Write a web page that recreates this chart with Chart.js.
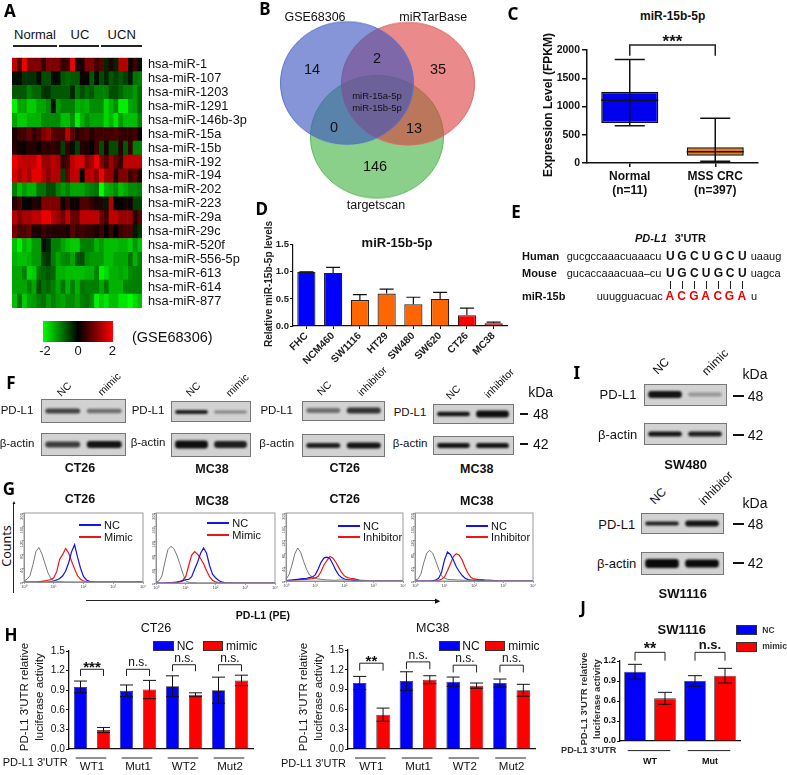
<!DOCTYPE html>
<html>
<head>
<meta charset="utf-8">
<script src="https://cdn.jsdelivr.net/npm/chart.js@4/dist/chart.umd.js"></script>
<style>
html,body{margin:0;padding:0;background:#fff;}
#page{position:relative;width:787px;height:775px;overflow:hidden;background:#fff;font-family:"Liberation Sans",Arial,sans-serif;color:#111;}
#page canvas{position:absolute;}
.t{position:absolute;white-space:nowrap;line-height:1;}
.r{position:absolute;}
.blot{position:absolute;overflow:hidden;border:1px solid #777;box-sizing:border-box;background:#d2d2d2;}
</style>
</head>
<body>
<div id="page"></div>
<script>
// ---------- data ----------
const heatLabels = ['hsa-miR-1','hsa-miR-107','hsa-miR-1203','hsa-miR-1291','hsa-miR-146b-3p','hsa-miR-15a','hsa-miR-15b','hsa-miR-192','hsa-miR-194','hsa-miR-202','hsa-miR-223','hsa-miR-29a','hsa-miR-29c','hsa-miR-520f','hsa-miR-556-5p','hsa-miR-613','hsa-miR-614','hsa-miR-877'];
const heatRows = [
[1.5,.6,1.9,1,1,1,.4,1,1,1,.4,.5,1.9,.2,.2,1,1,.5,.7,-.3,.3,-.3,1.4,1.4,.1,.5,-.1],
[-.1,-.1,-.4,-.4,-.4,-.1,-.6,-.6,-.1,-.1,-.7,-.8,-.7,-.7,.1,.1,-.7,-.1,-.6,-.3,-.7,-.5,-.7,-.5,-.2,-.9,-1],
[-.7,-.7,-.7,-1,-.8,-.8,-.4,-.4,-.7,-.7,-.7,-.7,-.3,-.9,-.6,-.8,-.7,-1,-1,-1,-.6,-.6,-.8,-1,-1,-1.2,-.8],
[-1.9,-1.3,-1.3,-1.6,-1.6,-1.3,-1.3,-1.1,-.1,-1.2,-1,-1,-1,-1.4,-1.3,-1.4,-1.1,-1.1,-1.1,-1.7,-1.4,-1.1,-1.9,-1.9,-1.3,-1.2,-.8],
[-1.3,-1.6,-1.6,-1.4,-1.4,-1.4,-1.1,-1.1,-1.1,-1.1,-1.5,-1.5,-1.1,-1.9,-1.4,-1.1,-1.3,-1.3,-1.3,-1.7,-1.4,-1.8,-1.2,-1.5,-1.5,-1.5,-1],
[.2,.5,.5,.8,.4,.6,1,1.2,.7,.6,.6,1.5,.7,.3,.5,.6,.3,.5,.5,.5,.5,.6,.4,.4,.4,.5,.1],
[.3,.1,.1,.3,.3,.1,.4,.3,.4,.3,-.5,.4,-.1,-.5,.3,.2,0,.5,-.6,.2,-.6,-.6,.3,-.7,.4,-1,-1],
[1.9,1.6,1.5,1.5,1.5,1.9,1.2,1.2,1.5,1.3,.4,.6,1.5,1.7,1.7,1,1.3,1.9,1,.6,1.2,.8,.4,1.5,1.5,1.5,1.5],
[1.7,1.3,1.6,1.3,1.8,1.8,1.4,1.1,1.4,1.4,-.5,.8,1.5,1.5,0,1.4,1.5,1.1,1.9,1.2,1.2,.3,1,1,.5,.7,.3],
[-1,-1.5,-1.2,-1.4,-1.4,-.9,-.9,-.6,-.6,-1,-1.2,-1,-1.3,-1.3,-1.3,-1.1,-1,-.9,-2,-1.4,-1.3,-1.1,-1.5,-1.3,-1.1,-1.1,-1],
[.3,.6,0,0,.3,.2,1,1,1,1,.1,.5,.1,.1,.6,.6,.4,.2,.3,-.2,1.4,0,0,.2,.1,-.5,-.5],
[1.4,1,1.3,1.3,1.5,1.5,1.8,1.8,1.4,1.2,.9,1.5,.8,.8,1.5,1.5,1.5,1.5,.8,.5,1.5,1.5,1.2,1.2,1.2,.3,.7],
[.9,.6,.6,.8,.2,.2,.5,.3,.3,.3,.3,.2,.7,.4,.5,.4,.4,.2,.5,0,.5,0,.5,.6,.6,-.2,-.4],
[-1.5,-1.9,-1.4,-1.6,-1.2,-1.2,-.1,-.3,-1,-1,-1.3,-1.5,-1.6,-1.6,-1,-1,-1,-1.4,-1.2,-1.5,-1.5,-1.5,-1.4,-1.4,-1.6,-1.2,-1.5],
[-1.4,-1.5,-1.5,-1.4,-1.2,-1.2,-.5,-.4,-1,-1.3,-1.1,-1,-1.3,-.7,-.6,-1.1,-1.2,-1.2,-1.2,-1.5,-1.5,-1.3,-1.3,-1.3,-.9,-1.4,-1],
[-1.3,-1.3,-1,-1.7,-1.6,-.9,-.8,-.7,-.8,-1.4,-1.4,-1.5,-1.5,-1.5,-1.5,-1.4,-1.4,-1,-1.9,-1.7,-1.4,-1.4,-1.3,-1.4,-1.1,-1,-1],
[-1.3,-1.3,-1.3,-1,-1.3,-.6,-.9,-.8,-1,-1.3,-.9,-1.4,-1,-1.4,-.9,-1,-1,-1,-1.3,-.9,-1.4,-1.4,-1.4,-1,-1,-1,-1],
[-1.5,-.9,-1.6,-1.3,-1.2,-1,-.9,-1.2,-1,-1.2,-1.3,-1.1,-1.1,-1.3,-1,-.9,-1.1,-1.9,-1.6,-1.8,-1.5,-1.5,-1.8,-1.8,-2,-1.7,-1.5]
];

const vennX = [-30, 31, 0];
const vennY = [29.3, 28.5, -29];
const vennR = [66.5, 66.5, 66.5];

const boxLabels = [['Normal','(n=11)'],['MSS CRC','(n=397)']];
const boxMin = [660, 30];
const boxQ1 = [710, 130];
const boxMedian = [1110, 200];
const boxQ3 = [1260, 280];
const boxMax = [1830, 790];

const cellLabels = ['FHC','NCM460','SW1116','HT29','SW480','SW620','CT26','MC38'];
const cellValues = [1, .98, .48, .6, .4, .5, .2, .05];
const cellErr = [0, .1, .1, .08, .13, .12, .13, .02];

const flowX = [1,1.26,1.58,2,2.51,3.16,3.98,5.01,6.31,7.94,10,12.6,15.8,20,25.1,31.6,39.8,50.1,63.1,79.4,100,126,158,200,251,316,398,501,631,794,1000];
const flowGray1 = [3,8,18,50,88,100,82,55,28,10,4,2,1,1,0];
const flowBlue1 = [0,0,0,0,0,0,0,0,0,1,3,6,10,18,32,55,88,108,72,40,16,6,2,1,0];
const flowRed1 = [0,0,0,0,0,1,2,3,5,7,12,30,66,80,97,84,60,38,18,8,3,1,0];
const flowGray2 = [2,6,20,60,95,105,98,80,55,28,6,2,1,1,0];
const flowBlue2 = [0,0,0,0,0,0,0,1,3,6,10,10,18,40,60,85,100,85,50,25,15,8,3,1,0];
const flowRed2 = [0,0,0,0,1,1,2,3,5,8,18,50,80,90,82,70,55,35,18,8,3,1,0];
const flowGray3 = [5,18,45,80,97,85,58,35,18,12,8,6,5,4,3,3,2,2,3,3,3,3,4,4,3,2,1,1,0];
const flowBlue3 = [1,2,3,4,5,6,7,8,10,12,18,35,55,68,70,66,50,32,18,10,6,4,3,2,1,1,0];
const flowRed3 = [1,2,2,3,3,4,5,5,6,7,9,14,28,48,60,72,68,56,40,25,15,10,8,7,5,3,2,1,0];
const flowGray4 = [2,6,20,55,82,90,82,60,35,15,8,5,4,4,3,3,2,2,2,2,2,1,1,0];
const flowBlue4 = [0,0,0,0,0,0,1,3,8,25,62,85,78,62,42,28,16,8,4,3,2,2,1,1,0];
const flowRed4 = [0,0,0,0,0,0,0,1,2,5,12,30,50,72,80,76,62,40,22,10,6,5,4,4,3,3,2,1,1,0];

const lucGroups = ['WT1','Mut1','WT2','Mut2'];
const ct26Nc = [.95,.89,.96,.90];
const ct26NcErr = [.09,.09,.16,.20];
const ct26Mimic = [.29,.91,.83,1.05];
const ct26MimicErr = [.04,.14,.03,.08];
const ct26Brackets = [[1.22,1.117,'***'],[1.22,1.117,'n.s.'],[1.29,1.19,'n.s.'],[1.29,1.19,'n.s.']];
const mc38Nc = [1,1.03,1.02,1];
const mc38NcErr = [.1,.14,.07,.06];
const mc38Mimic = [.52,1.05,.96,.89];
const mc38MimicErr = [.1,.06,.04,.09];
const mc38Brackets = [[1.3,1.187,'**'],[1.32,1.21,'n.s.'],[1.27,1.16,'n.s.'],[1.27,1.16,'n.s.']];

const swGroups = ['WT','Mut'];
const swNc = [1.04,.90];
const swNcErr = [.11,.08];
const swMimic = [.64,.98];
const swMimicErr = [.09,.11];
const swBrackets = [[1.33,1.205,'**'],[1.33,1.205,'n.s.']];

const BLUE = '#0000ff', RED = '#ff0000';
Chart.defaults.font.family = '"Liberation Sans", Arial, sans-serif';
Chart.defaults.color = '#111';
Chart.defaults.animation = false;

const page = document.getElementById('page');

// ---------- text and plain bits ----------
function txt(s, x, y, o) {
    o = o || {};
    const d = document.createElement('div');
    d.className = 't';
    d.textContent = s;
    d.style.left = x + 'px';
    d.style.top = y + 'px';
    d.style.fontSize = (o.size || 11) + 'px';
    if (o.bold) d.style.fontWeight = 'bold';
    if (o.italic) d.style.fontStyle = 'italic';
    if (o.color) d.style.color = o.color;
    if (o.font) d.style.fontFamily = o.font;
    const tx = o.left ? '0' : '-50%';
    d.style.transform = 'translate(' + tx + ',-50%)' + (o.rot ? ' rotate(' + o.rot + 'deg)' : '');
    page.appendChild(d);
}
function rect(x, y, w, h, bg, border) {
    const d = document.createElement('div');
    d.className = 'r';
    d.style.cssText = 'left:' + x + 'px;top:' + y + 'px;width:' + w + 'px;height:' + h + 'px;background:' + bg + ';' + (border ? 'border:1px solid ' + border + ';box-sizing:border-box;' : '');
    page.appendChild(d);
    return d;
}

// ---------- plugins ----------
// whiskers and medians off the dataset's own low/high arrays
const whiskerPlugin = {
    id: 'whiskers',
    afterDatasetsDraw(chart) {
        const ctx = chart.ctx, ys = chart.scales.y;
        chart.data.datasets.forEach((ds, k) => {
            if (!ds.low) return;
            const meta = chart.getDatasetMeta(k);
            meta.data.forEach((bar, i) => {
                const yl = ys.getPixelForValue(ds.low[i]), yh = ys.getPixelForValue(ds.high[i]);
                const c = ds.capHalf || 6;
                ctx.save();
                ctx.strokeStyle = '#111';
                ctx.lineWidth = ds.whiskerWidth || 1;
                ctx.beginPath();
                ctx.moveTo(bar.x, yl); ctx.lineTo(bar.x, yh);
                ctx.moveTo(bar.x - c, yh); ctx.lineTo(bar.x + c, yh);
                if (!ds.upperOnly) { ctx.moveTo(bar.x - c, yl); ctx.lineTo(bar.x + c, yl); }
                if (ds.median) {
                    const ym = ys.getPixelForValue(ds.median[i]);
                    ctx.moveTo(bar.x - bar.width / 2, ym); ctx.lineTo(bar.x + bar.width / 2, ym);
                }
                ctx.stroke();
                ctx.restore();
            });
        });
    }
};
// significance brackets: [top value, foot value, text] per group
const bracketPlugin = {
    id: 'brackets',
    afterDraw(chart, args, opts) {
        if (!opts.items) return;
        const ctx = chart.ctx, ys = chart.scales.y;
        const two = chart.data.datasets.length > 1;
        opts.items.forEach((b, i) => {
            const x0 = two ? chart.getDatasetMeta(0).data[i].x : chart.getDatasetMeta(0).data[0].x;
            const x1 = two ? chart.getDatasetMeta(1).data[i].x : chart.getDatasetMeta(0).data[1].x;
            const yt = ys.getPixelForValue(b[0]), yf = ys.getPixelForValue(b[1]);
            ctx.save();
            ctx.strokeStyle = '#222';
            ctx.lineWidth = opts.width || 1;
            ctx.beginPath();
            ctx.moveTo(x0, yf); ctx.lineTo(x0, yt); ctx.lineTo(x1, yt); ctx.lineTo(x1, yf);
            ctx.stroke();
            const stars = b[2].indexOf('*') >= 0;
            ctx.fillStyle = '#111';
            ctx.font = (stars ? opts.starFont : opts.font) || 'bold 12px "Liberation Sans"';
            ctx.textAlign = 'center';
            ctx.textBaseline = 'alphabetic';
            ctx.fillText(b[2], (x0 + x1) / 2, yt + (stars ? (opts.starDy || 5) : (opts.textDy || -4)));
            ctx.restore();
        });
    }
};
// short line above each group label
const groupRulePlugin = {
    id: 'groupRule',
    afterDraw(chart, args, opts) {
        if (!opts.half) return;
        const xs = chart.scales.x, ctx = chart.ctx, y = chart.chartArea.bottom + opts.dy;
        ctx.save();
        ctx.strokeStyle = '#222';
        ctx.lineWidth = opts.width || 1;
        xs.ticks.forEach((t, i) => {
            const c = xs.getPixelForTick(i) + (opts.shift || 0);
            ctx.beginPath();
            ctx.moveTo(c - opts.half, y); ctx.lineTo(c + opts.half, y);
            ctx.stroke();
        });
        ctx.restore();
    }
};
const framePlugin = {
    id: 'frame',
    afterDraw(chart, args, opts) {
        if (!opts.color) return;
        const a = chart.chartArea, ctx = chart.ctx;
        ctx.save();
        ctx.strokeStyle = opts.color;
        ctx.lineWidth = 1;
        ctx.strokeRect(a.left, a.top, a.right - a.left, a.bottom - a.top);
        ctx.restore();
    }
};
Chart.register(whiskerPlugin, bracketPlugin, groupRulePlugin, framePlugin);

// plot area given in page pixels, margins held fixed so it lands where it should
function plot(box, m, config, parent) {
    const c = document.createElement('canvas');
    c.width = Math.round(box.r - box.l + m.l + m.r);
    c.height = Math.round(box.b - box.t + m.t + m.b);
    c.style.left = (box.l - m.l) + 'px';
    c.style.top = (box.t - m.t) + 'px';
    (parent || page).appendChild(c);
    config.options = config.options || {};
    config.options.responsive = false;
    config.options.devicePixelRatio = 1;
    const sc = config.options.scales;
    const xHidden = sc.x.display === false;
    config.options.layout = {
        autoPadding: false,
        padding: { top: m.t, left: m.yRight ? m.l : 0, right: m.yRight ? 0 : m.r, bottom: xHidden ? m.b : 0 }
    };
    Object.keys(sc).forEach(k => {
        sc[k].afterFit = s => {
            if (k === 'x') s.height = m.b;
            else s.width = m.yRight ? m.r : m.l;
        };
    });
    return new Chart(c, config);
}

function axisGrid(len, w) {
    return { display: true, drawOnChartArea: false, drawTicks: true, tickLength: len, lineWidth: w, color: '#111', offset: false };
}

// ---------- A heatmap ----------
function heatColor(v) {
    return v >= 0 ? 'rgb(' + Math.round(v / 2 * 255) + ',0,0)' : 'rgb(0,' + Math.round(-v / 2 * 255) + ',0)';
}
plot({ l: 12, r: 142, t: 52.3, b: 316 }, { l: 0, r: 112, t: 8, b: 8, yRight: true }, {
    type: 'bar',
    data: {
        labels: heatLabels,
        datasets: heatRows[0].map((_, j) => ({
            data: heatRows.map(() => 1),
            backgroundColor: heatRows.map(r => heatColor(r[j])),
            barPercentage: 1, categoryPercentage: 1, borderWidth: 0
        }))
    },
    options: {
        indexAxis: 'y',
        plugins: { legend: { display: false }, tooltip: { enabled: false } },
        scales: {
            x: { display: false, stacked: true, min: 0, max: 27 },
            y: {
                stacked: true, position: 'right',
                grid: { display: false, drawTicks: false }, border: { display: false },
                ticks: { font: { size: 12.8 }, color: '#111', padding: 6, autoSkip: false }
            }
        }
    }
});
txt('Normal', 35, 34, { size: 13 });
txt('UC', 80, 34, { size: 13 });
txt('UCN', 121.7, 34, { size: 13 });
rect(13, 45, 44, 1.5, '#222');
rect(59, 45, 40, 1.5, '#222');
rect(101, 45, 40.7, 1.5, '#222');
rect(43.3, 321, 70, 20.7, 'linear-gradient(90deg,#00ff00 0%,#007f00 25%,#000 50%,#7f0000 75%,#ff0000 100%)');
txt('-2', 45, 349.5, { size: 13 });
txt('0', 78, 349.5, { size: 13 });
txt('2', 112.3, 349.5, { size: 13 });
txt('(GSE68306)', 132, 337, { size: 14.5, left: true });

// ---------- B venn ----------
const vennWrap = document.createElement('div');
vennWrap.style.cssText = 'position:absolute;left:266.8px;top:0;width:220px;height:220px;transform:scaleY(.922);transform-origin:50% 50%;';
page.appendChild(vennWrap);
const vennFill = ['rgba(60,84,190,.62)', 'rgba(220,60,60,.6)', 'rgba(60,175,60,.6)'];
const vennEdge = ['#5a72c8', '#d86666', '#5cb85c'];
plot({ l: 0, r: 220, t: 0, b: 220 }, { l: 0, r: 0, t: 0, b: 0 }, {
    type: 'bubble',
    data: {
        datasets: vennX.map((x, i) => ({
            data: [{ x: x, y: vennY[i], r: vennR[i] }],
            backgroundColor: vennFill[i], borderColor: vennEdge[i], borderWidth: 1, clip: false
        }))
    },
    options: {
        plugins: { legend: { display: false }, tooltip: { enabled: false } },
        scales: {
            x: { display: false, min: -110, max: 110 },
            y: { display: false, min: -110, max: 110 }
        }
    }
}, vennWrap);
txt('GSE68306', 315, 17.3, { size: 12.5 });
txt('miRTarBase', 433.3, 17.3, { size: 12.5 });
txt('targetscan', 376, 205, { size: 12.5 });
txt('14', 312, 69.3, { size: 14.5 });
txt('35', 438, 69, { size: 14.5 });
txt('2', 377, 58, { size: 14.5 });
txt('0', 334, 127, { size: 14.5 });
txt('13', 414, 128, { size: 14.5 });
txt('146', 375, 166, { size: 14.5 });
txt('miR-15a-5p', 377, 96, { size: 9.5 });
txt('miR-15b-5p', 377, 108, { size: 9.5 });

// ---------- C box plot ----------
plot({ l: 587, r: 758, t: 50, b: 163 }, { l: 36, r: 2, t: 18, b: 40 }, {
    type: 'bar',
    data: {
        labels: boxLabels,
        datasets: [{
            data: boxQ1.map((q, i) => [q, boxQ3[i]]),
            backgroundColor: ['#0000f0', '#f57c00'], borderColor: '#111', borderWidth: 1.5, borderSkipped: false,
            barPercentage: .667, categoryPercentage: 1,
            low: boxMin, high: boxMax, median: boxMedian, capHalf: 15, whiskerWidth: 1.5
        }]
    },
    options: {
        plugins: {
            legend: { display: false }, tooltip: { enabled: false },
            brackets: { items: [[2090, 1900, '***']], width: 1.5, starFont: 'bold 17px "Liberation Sans"', starDy: 2 }
        },
        scales: {
            x: { grid: axisGrid(4, 1.5), border: { color: '#111', width: 1.5 }, ticks: { font: { size: 12, weight: 'bold' }, padding: 2, maxRotation: 0, color: '#111' } },
            y: { min: 0, max: 2000, grid: axisGrid(5, 1.5), border: { color: '#111', width: 1.5 }, ticks: { stepSize: 500, font: { size: 10.5, weight: 'bold' }, padding: 2, color: '#111', callback: v => String(v) } }
        }
    }
});
txt('miR-15b-5p', 672.7, 16, { size: 12, bold: true });
txt('Expression Level (FPKM)', 547.7, 105, { size: 12, bold: true, rot: -90 });

// ---------- D bars ----------
plot({ l: 293.3, r: 507.7, t: 244.3, b: 326.3 }, { l: 26, r: 2, t: 6, b: 40 }, {
    type: 'bar',
    data: {
        labels: cellLabels,
        datasets: [{
            data: cellValues,
            backgroundColor: [BLUE, BLUE, '#ff6600', '#ff6600', '#ff6600', '#ff6600', RED, RED],
            borderColor: '#222', borderWidth: 1.2,
            barPercentage: .68, categoryPercentage: 1,
            low: cellValues, high: cellValues.map((v, i) => v + cellErr[i]), capHalf: 7, whiskerWidth: 1.2, upperOnly: true
        }]
    },
    options: {
        plugins: { legend: { display: false }, tooltip: { enabled: false } },
        scales: {
            x: { grid: axisGrid(3, 1), border: { color: '#111', width: 1.2 }, ticks: { font: { size: 10.2, weight: 'bold' }, minRotation: 45, maxRotation: 45, padding: 1, autoSkip: false, color: '#222' } },
            y: { min: 0, max: 1.5, grid: axisGrid(3, 1), border: { color: '#111', width: 1.2 }, ticks: { stepSize: .5, font: { size: 9.5, weight: 'bold' }, padding: 1, color: '#222', callback: v => v.toFixed(1) } }
        }
    }
});
txt('miR-15b-5p', 397, 242, { size: 13, bold: true });
txt('Relative miR-15b-5p levels', 269, 284, { size: 10, bold: true, rot: -90, color: '#222' });

// ---------- E sequences ----------
txt('PD-L1', 635, 238, { size: 11, italic: true, bold: true, left: true });
txt("3'UTR", 674.7, 238, { size: 11, bold: true, left: true });
txt('Human', 522, 255.7, { size: 11, bold: true, left: true });
txt('Mouse', 522, 273.3, { size: 11, bold: true, left: true });
txt('miR-15b', 522, 295.7, { size: 11, bold: true, left: true });
txt('gucgccaaacuaaacu', 566.7, 255.7, { size: 11, left: true });
txt('gucaccaaacuaa\u2013cu', 566.7, 273.3, { size: 11, left: true });
txt('uuugguacuac', 596.7, 295.7, { size: 11, left: true });
txt('uaaug', 750.7, 255.7, { size: 11, left: true });
txt('uagca', 750.7, 273.3, { size: 11, left: true });
txt('u', 751, 295.7, { size: 11, left: true });
const baseX = [670.3, 682, 694.3, 706, 718.3, 730, 742.3];
'UGCUGCU'.split('').forEach((b, i) => {
    txt(b, baseX[i], 255.7, { size: 12, bold: true });
    txt(b, baseX[i], 273.3, { size: 12, bold: true });
});
'ACGACGA'.split('').forEach((b, i) => {
    txt(b, baseX[i] - .5, 295.7, { size: 12, bold: true, color: '#f00000' });
    rect(baseX[i] - .5, 280.5, 1, 8, '#222');
});

// ---------- F / I blots, lane bands through a bar chart ----------
function blot(x0, x1, y0, y1, dark, thick) {
    const w = document.createElement('div');
    w.className = 'blot';
    w.style.cssText = 'left:' + x0 + 'px;top:' + y0 + 'px;width:' + (x1 - x0) + 'px;height:' + (y1 - y0) + 'px;';
    page.appendChild(w);
    const W = x1 - x0 - 2, H = y1 - y0 - 2;
    const ch = plot({ l: 0, r: W, t: 0, b: H }, { l: 0, r: 0, t: 0, b: 0 }, {
        type: 'bar',
        data: {
            labels: ['a', 'b'],
            datasets: [{
                data: thick.map(t => [-t, t]),
                backgroundColor: dark.map(d => 'rgba(10,10,10,' + d + ')'),
                barPercentage: .84, categoryPercentage: 1, borderRadius: 3, borderSkipped: false, borderWidth: 0
            }]
        },
        options: {
            plugins: { legend: { display: false }, tooltip: { enabled: false } },
            scales: { x: { display: false }, y: { display: false, min: -H / 2, max: H / 2 } }
        }
    }, w);
    ch.canvas.style.filter = 'blur(1.1px)';
}
blot(40.7, 125.7, 399.3, 423.3, [.72, .5], [2.5, 2.2]);
blot(40.7, 125.7, 433.3, 456.3, [.75, .95], [3, 3.5]);
blot(170.7, 250.7, 400.7, 422.3, [.9, .4], [2, 1.5]);
blot(170.7, 250.7, 433.3, 456.7, [.98, .9], [4, 3.5]);
blot(301.7, 385, 401.3, 420.7, [.5, .8], [2.5, 3]);
blot(301.7, 385, 434.3, 457.3, [.9, .95], [2.5, 3]);
blot(433.3, 513.7, 404, 424, [.95, .98], [2.2, 3.5]);
blot(433.3, 513.7, 436.3, 455.3, [.95, .95], [2.4, 2.6]);
blot(644.3, 726.7, 384.3, 405.7, [.95, .3], [3.5, 2]);
blot(644.3, 726.7, 423.3, 445.3, [.95, .9], [2.5, 2.5]);
blot(641.3, 723.7, 513.3, 534.3, [.9, .95], [2, 3]);
blot(641.3, 723.7, 552.3, 575.3, [1, 1], [4.5, 4]);

const B = '\u03b2-actin';
[[17, 411, 17, 444], [148, 411, 148, 442.7], [276.7, 411.3, 276.7, 444], [410, 412.7, 410, 444]].forEach(p => {
    txt('PD-L1', p[0], p[1], { size: 11.5 });
    txt(B, p[2], p[3], { size: 11.5 });
});
txt('NC', 64, 389, { size: 10.5, rot: -45 });
txt('mimic', 109, 384, { size: 10.5, rot: -45 });
txt('NC', 193, 389, { size: 10.5, rot: -45 });
txt('mimic', 237, 384.7, { size: 10.5, rot: -45 });
txt('NC', 324, 388, { size: 10.5, rot: -45 });
txt('inhibitor', 372, 380.7, { size: 10.5, rot: -45 });
txt('NC', 453, 391.7, { size: 10.5, rot: -45 });
txt('inhibitor', 499, 383, { size: 10.5, rot: -45 });
txt('CT26', 80, 468, { size: 12.5, bold: true });
txt('MC38', 212, 469, { size: 12.5, bold: true });
txt('CT26', 344.7, 468, { size: 12.5, bold: true });
txt('MC38', 476.7, 469, { size: 12.5, bold: true });
txt('kDa', 540.7, 392.3, { size: 14 });
rect(520, 413, 8, 2, '#111');
txt('48', 533, 414, { size: 14, left: true });
rect(520, 443, 8, 2, '#111');
txt('42', 533, 444.3, { size: 14, left: true });

// I
txt('PD-L1', 618, 394, { size: 13 });
txt(B, 617.7, 433.7, { size: 13 });
txt('NC', 661, 366, { size: 12, rot: -45 });
txt('mimic', 715, 361.7, { size: 12, rot: -45 });
txt('kDa', 755, 373.7, { size: 14 });
rect(733, 395, 10.5, 2, '#111');
txt('48', 747.7, 395.7, { size: 14, left: true });
rect(733, 434, 10.5, 2, '#111');
txt('42', 747.7, 435, { size: 14, left: true });
txt('SW480', 685.7, 464, { size: 13, bold: true });
txt('PD-L1', 616.7, 524, { size: 13 });
txt(B, 616.7, 563.3, { size: 13 });
txt('NC', 658, 496, { size: 12, rot: -45 });
txt('inhibitor', 716, 487.7, { size: 12, rot: -45 });
txt('kDa', 755, 502.7, { size: 14 });
rect(733, 523, 10.5, 2, '#111');
txt('48', 747.7, 524.3, { size: 14, left: true });
rect(733, 562, 10.5, 2, '#111');
txt('42', 747.7, 563.3, { size: 14, left: true });
txt('SW1116', 682.7, 593.3, { size: 13, bold: true });

// ---------- G flow histograms ----------
function curve(vals) {
    return vals.map((y, i) => ({ x: flowX[i], y: y })).concat([{ x: 10000, y: 0 }]);
}
function flow(box, gray, blue, red) {
    plot(box, { l: 9, r: 4, t: 4, b: 8 }, {
        type: 'scatter',
        data: {
            datasets: [
                { data: curve(gray), borderColor: '#555', borderWidth: .8 },
                { data: curve(blue), borderColor: '#1414e6', borderWidth: 1.2 },
                { data: curve(red), borderColor: '#f01414', borderWidth: 1.2 }
            ].map(d => Object.assign(d, { showLine: true, pointRadius: 0, tension: 0 }))
        },
        options: {
            plugins: { legend: { display: false }, tooltip: { enabled: false }, frame: { color: '#999' } },
            scales: {
                x: {
                    type: 'logarithmic', min: 1, max: 10000,
                    afterBuildTicks: s => { s.ticks = [1, 10, 100, 1000, 10000].map(v => ({ value: v })); },
                    grid: { display: true, drawOnChartArea: false, tickLength: 2, color: '#666', lineWidth: .6 },
                    border: { color: '#888' },
                    ticks: { font: { size: 4 }, color: '#444', padding: 0, maxRotation: 0, autoSkip: false, callback: v => '10' + ['\u2070', '\u00b9', '\u00b2', '\u00b3', '\u2074'][Math.round(Math.log10(v))] }
                },
                y: {
                    min: 0, max: 200,
                    grid: { display: true, drawOnChartArea: false, tickLength: 2, color: '#666', lineWidth: .6 },
                    border: { color: '#888' },
                    ticks: { stepSize: 40, font: { size: 4 }, color: '#444', padding: 0, minRotation: 90, maxRotation: 90 }
                }
            }
        }
    });
}
flow({ l: 24, r: 143.3, t: 513.3, b: 582.7 }, flowGray1, flowBlue1, flowRed1);
flow({ l: 155.7, r: 275, t: 513.3, b: 583.3 }, flowGray2, flowBlue2, flowRed2);
flow({ l: 286, r: 402.7, t: 513.3, b: 581 }, flowGray3, flowBlue3, flowRed3);
flow({ l: 415, r: 532.7, t: 513.3, b: 581.3 }, flowGray4, flowBlue4, flowRed4);
txt('CT26', 80, 499, { size: 12.5, bold: true });
txt('MC38', 212, 500.7, { size: 12.5, bold: true });
txt('CT26', 344.7, 499, { size: 12.5, bold: true });
txt('MC38', 476.7, 500.7, { size: 12.5, bold: true });
function flowKey(x0, x1, yA, yB, second) {
    rect(x0, Math.round(yA) - 1, x1 - x0, 2, '#1414e6');
    rect(x0, Math.round(yB) - 1, x1 - x0, 2, '#f01414');
    txt('NC', x1 + 3, yA, { size: 11, left: true });
    txt(second, x1 + 3, yB, { size: 11, left: true });
}
flowKey(79, 101, 525, 537, 'Mimic');
flowKey(206.7, 229.3, 523, 535, 'Mimic');
flowKey(338, 360, 526, 537, 'Inhibitor');
flowKey(466, 488, 526, 537, 'Inhibitor');
txt('Counts', 7, 546, { size: 12.5, rot: -90, font: '"Noto Sans"' });
rect(13.4, 503, 1, 90, '#222');
txt('\u25b2', 13.9, 502, { size: 5 });
rect(86, 599.5, 350, 1, '#222');
txt('\u25b6', 437, 600, { size: 7 });
txt('PD-L1 (PE)', 263, 614.7, { size: 10.5, bold: true });

// ---------- H / J luciferase bars ----------
function luc(box, m, groups, nc, ncErr, mim, mimErr, items, o) {
    plot(box, m, {
        type: 'bar',
        data: {
            labels: groups,
            datasets: [
                { data: nc, backgroundColor: BLUE, low: nc.map((v, i) => v - ncErr[i]), high: nc.map((v, i) => v + ncErr[i]) },
                { data: mim, backgroundColor: RED, low: mim.map((v, i) => v - mimErr[i]), high: mim.map((v, i) => v + mimErr[i]) }
            ].map(d => Object.assign(d, { borderColor: '#333', borderWidth: .8, barPercentage: o.barPct, categoryPercentage: 1, capHalf: o.cap, whiskerWidth: 1 }))
        },
        options: {
            plugins: {
                legend: { display: false }, tooltip: { enabled: false },
                brackets: { items: items, font: o.bFont, starFont: o.sFont, starDy: o.starDy, textDy: o.textDy },
                groupRule: { half: o.half, dy: o.ruleDy, shift: o.shift }
            },
            scales: {
                x: { grid: { display: false, drawTicks: false }, border: { color: '#111', width: 1.3 }, ticks: { font: o.xFont, padding: o.xPad, color: '#111', maxRotation: 0 } },
                y: {
                    min: 0, max: o.max,
                    grid: axisGrid(3, 1), border: { color: '#111', width: 1.3 },
                    ticks: { stepSize: o.step, font: o.yFont, padding: 1, color: '#111', callback: v => v.toFixed(1) }
                }
            }
        }
    });
}
const hOpts = {
    barPct: .58, cap: 6.5, max: 1.5, step: .3, half: 15.3, ruleDy: 9, shift: -1,
    bFont: '12px "Liberation Sans"', sFont: 'bold 15px "Liberation Sans"', starDy: 3, textDy: -3,
    xFont: { size: 11.5 }, yFont: { size: 10.2 }, xPad: 11
};
luc({ l: 68.7, r: 253, t: 650.7, b: 748.7 }, { l: 44, r: 2, t: 24, b: 26 }, lucGroups, ct26Nc, ct26NcErr, ct26Mimic, ct26MimicErr, ct26Brackets, hOpts);
luc({ l: 347.7, r: 534.3, t: 650, b: 749 }, { l: 44, r: 2, t: 24, b: 26 }, lucGroups, mc38Nc, mc38NcErr, mc38Mimic, mc38MimicErr, mc38Brackets, hOpts);
txt('CT26', 156, 627.7, { size: 12.5 });
txt('MC38', 432.7, 628, { size: 12.5 });
txt("PD-L1 3'UTR relative", 25, 697, { size: 11.5, rot: -90 });
txt('luciferase activity', 40, 697, { size: 11.5, rot: -90 });
txt("PD-L1 3'UTR relative", 304, 696.7, { size: 11.5, rot: -90 });
txt('luciferase activity', 318.7, 696.7, { size: 11.5, rot: -90 });
txt("PD-L1 3'UTR", 2.7, 762, { size: 11, left: true });
txt("PD-L1 3'UTR", 281, 763, { size: 11, left: true });
function key(x, y, w, h, color) { rect(x, y, w, h, color, '#333'); }
key(153.3, 640.7, 20.7, 10, BLUE);
txt('NC', 176.7, 645.7, { size: 12, left: true });
key(203.3, 640.7, 20, 10, RED);
txt('mimic', 226, 645.7, { size: 12, left: true });
key(439, 640.7, 21, 10, BLUE);
txt('NC', 462.3, 645.7, { size: 12, left: true });
key(485.3, 640.7, 20, 10, RED);
txt('mimic', 508.3, 645.7, { size: 12, left: true });

luc({ l: 619.5, r: 739.5, t: 661, b: 740.7 }, { l: 38, r: 2, t: 22, b: 26 }, swGroups, swNc, swNcErr, swMimic, swMimicErr, swBrackets, {
    barPct: .72, cap: 7, max: 1.2, step: .3, half: 21.3, ruleDy: 9.6, shift: -1,
    bFont: 'bold 13px "Liberation Sans"', sFont: 'bold 16px "Liberation Sans"', starDy: 2, textDy: -3,
    xFont: { size: 9, weight: 'bold' }, yFont: { size: 9, weight: 'bold' }, xPad: 15
});
txt('SW1116', 681.7, 628.7, { size: 13, bold: true });
txt("PD-L1 3'UTR relative", 584.3, 699, { size: 9.5, bold: true, rot: -90, color: '#333' });
txt('luciferase activity', 596.7, 699, { size: 9.5, bold: true, rot: -90, color: '#333' });
txt("PD-L1 3'UTR", 561, 750.7, { size: 9.2, bold: true, left: true, color: '#333' });
key(736, 625, 20.7, 10, BLUE);
txt('NC', 762.3, 630, { size: 8.5, bold: true, left: true, color: '#333' });
key(736, 641.7, 20.7, 10.6, RED);
txt('mimic', 762.3, 646.3, { size: 8.5, bold: true, left: true, color: '#333' });

// ---------- panel letters ----------
[['A', 10, 10], ['B', 265, 8], ['C', 513, 13], ['D', 261.7, 207.7], ['E', 516, 211], ['F', 11, 381.7], ['G', 9, 488], ['H', 11, 634], ['I', 576.7, 372], ['J', 583, 606.7]].forEach(p => {
    txt(p[0], p[1], p[2], { size: 17, bold: true, font: '"Noto Sans"', color: '#000' });
});
</script>
</body>
</html>
